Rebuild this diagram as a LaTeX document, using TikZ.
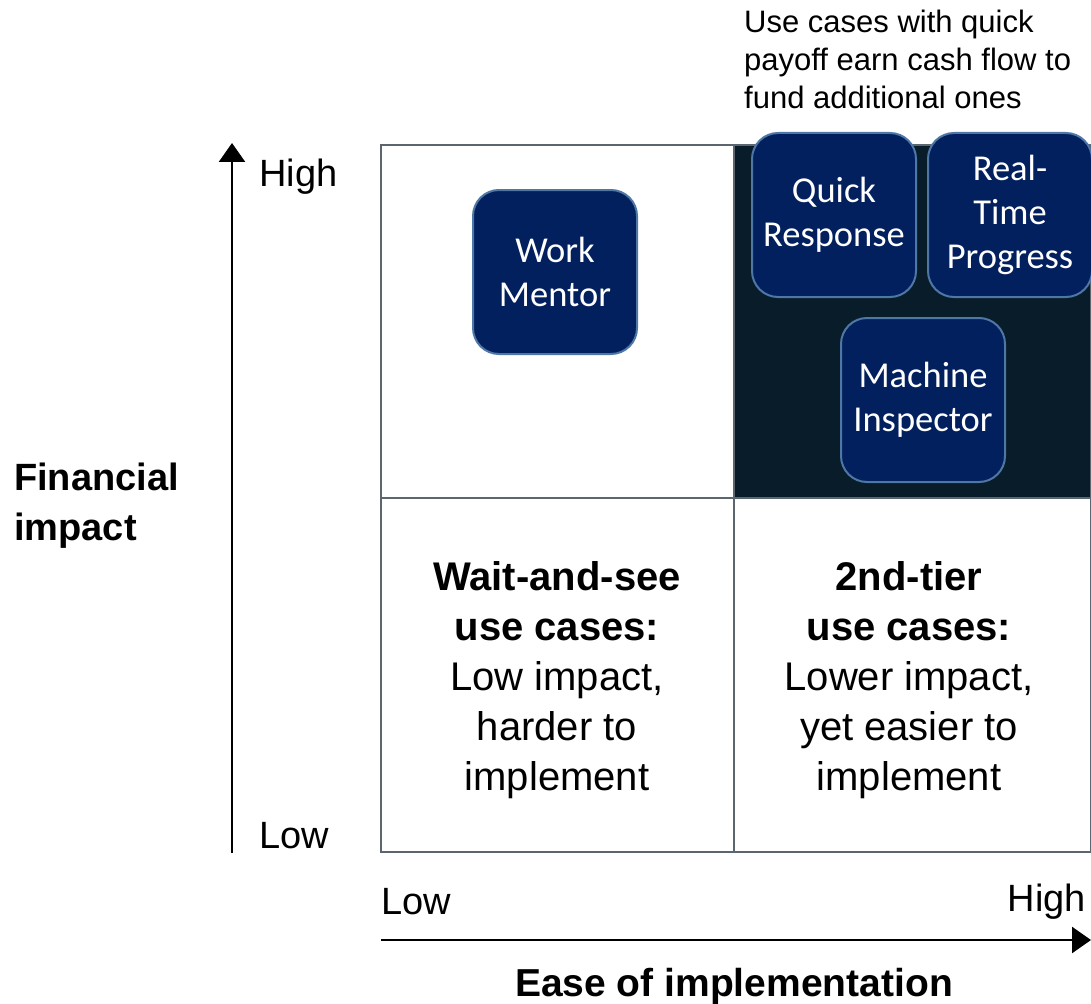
\documentclass[tikz,border=0pt]{standalone}
\usepackage{fontspec}
\setmainfont{Liberation Sans}
\newfontfamily\boxfont{Carlito}
\usetikzlibrary{arrows.meta}
\definecolor{darkq}{HTML}{081C2A}
\definecolor{boxfill}{HTML}{03205E}
\definecolor{boxedge}{HTML}{4E77A6}
\definecolor{gridc}{HTML}{5C6670}
\tikzset{
  usecase/.style={draw=boxedge, fill=boxfill, line width=2pt, rounded corners=26pt,
    minimum width=164pt, minimum height=164pt, inner sep=0pt, text=white, align=center,
    font=\boxfont\fontsize{36.5}{44}\selectfont},
  axislabel/.style={font=\fontsize{38}{44}\selectfont, inner sep=0pt},
  quadtext/.style={align=center, inner sep=0pt, font=\fontsize{40}{50}\selectfont},
  axisline/.style={line width=2.5pt, -{Triangle[length=19pt,width=26pt]}},
  gridline/.style={draw=gridc, line width=1.5pt}
}
\begin{document}
\begin{tikzpicture}[x=1pt,y=-1pt]
\useasboundingbox (0,0) rectangle (1091,1003);
% quadrants
\fill[darkq] (734,145) rectangle (1091,498);
\draw[gridline] (381,145) rectangle (1091,852);
\draw[gridline] (734,145) -- (734,852);
\draw[gridline] (381,498) -- (1091,498);
% axes
\coordinate (ybot) at (232,853);
\coordinate (ytop) at (232,143);
\coordinate (xleft) at (381,940);
\coordinate (xright) at (1091,940);
\draw[axisline] (ybot) -- (ytop);
\draw[axisline] (xleft) -- (xright);
% axis labels
\node[axislabel, anchor=west] (yhigh) at (259,177) {High};
\node[axislabel, anchor=west] (ylow) at (259,836) {Low};
\node[axislabel, anchor=west] (xlow) at (381,902) {Low};
\node[axislabel, anchor=east] (xhigh) at (1086,902) {High};
\node[align=left, anchor=west, inner sep=0pt, font=\bfseries\fontsize{38}{50}\selectfont] (yname) at (14,506) {Financial\\impact};
\node[inner sep=0pt, font=\bfseries\fontsize{39}{44}\selectfont] (xname) at (734,986) {Ease of implementation};
% quadrant texts
\node[quadtext] (wait) at (557,680) {\textbf{Wait-and-see}\\\textbf{use cases:}\\Low impact,\\harder to\\implement};
\node[quadtext] (tier) at (909,680) {\textbf{2nd-tier}\\\textbf{use cases:}\\Lower impact,\\yet easier to\\implement};
% note
\node[align=left, anchor=north west, inner sep=0pt, font=\fontsize{31}{38}\selectfont] (note) at (744,10) {Use cases with quick\\payoff earn cash flow to\\fund additional ones};
% use cases
\node[usecase] (work) at (555,272) {Work\\Mentor};
\node[usecase] (quick) at (834,215) {Quick\\Response};
\node[usecase] (real) at (1010,215) {Real-\\Time\\Progress};
\node[usecase] (machine) at (923,400) {Machine\\Inspector};
\end{tikzpicture}
\end{document}
